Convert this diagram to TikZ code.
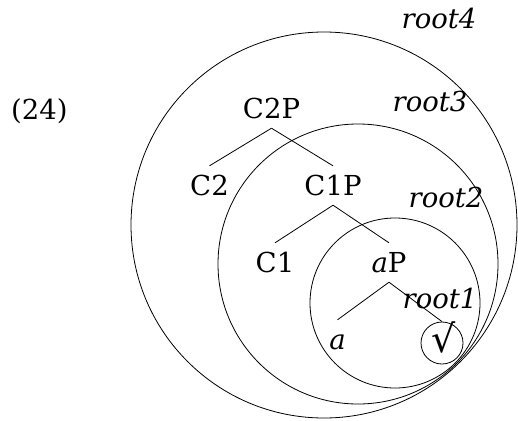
\documentclass[tikz,border=0pt]{standalone}
\usepackage{fontspec}
\setmainfont{DejaVu Serif}
\begin{document}
\begin{tikzpicture}[x=1pt,y=-1pt,
  lbl/.style={font=\fontsize{27.5}{32}\selectfont, anchor=base, inner xsep=0pt},
  tnode/.style={font=\fontsize{27.5}{32}\selectfont, text height=19pt, text depth=0pt, inner ysep=10pt, inner xsep=0pt},
  rlabel/.style={font=\fontsize{27.5}{32}\selectfont\itshape, anchor=base, inner sep=0pt},
  ring/.style={line width=0.8pt},
  edge/.style={line width=0.8pt}]
\useasboundingbox (0,0) rectangle (518,420);
% nested circles
\draw[ring] (324,225) circle (193);
\draw[ring] (358,264) circle (140);
\draw[ring] (395,303) circle (85);
% labels
\node[lbl, anchor=base west] (ex) at (11,119) {(24)};
\node[rlabel] (r4) at (439,29) {root4};
\node[rlabel] (r3) at (430,111) {root3};
\node[rlabel] (r2) at (446,207) {root2};
\node[rlabel] (r1) at (440,308) {root1};
% tree nodes (anchored at their baselines)
\node[tnode, anchor=base] (c2p) at (271.5,118) {C2P};
\node[tnode, anchor=base] (c2) at (209.5,195) {C2};
\node[tnode, anchor=base] (c1p) at (333,195) {C1P};
\node[tnode, anchor=base] (c1) at (275,272) {C1};
\node[tnode, anchor=base] (ap) at (389,272) {\textit{a}P};
\node[tnode, anchor=base] (a) at (337.5,349) {\textit{a}};
\node[draw, ring, circle, minimum size=42pt, inner sep=0pt] (rt) at (442,343) {};
\node[inner sep=0pt, anchor=base, font=\fontsize{38}{42}\selectfont] (sq) at (443.5,352) {√};
% branches
\draw[edge] (c2p.south) -- (c2.north);
\draw[edge] (c2p.south) -- (c1p.north);
\draw[edge] (c1p.south) -- (c1.north);
\draw[edge] (c1p.south) -- (ap.north);
\draw[edge] (ap.south) -- (a.north);
\draw[edge] (ap.south) -- (rt.north);
\end{tikzpicture}
\end{document}
